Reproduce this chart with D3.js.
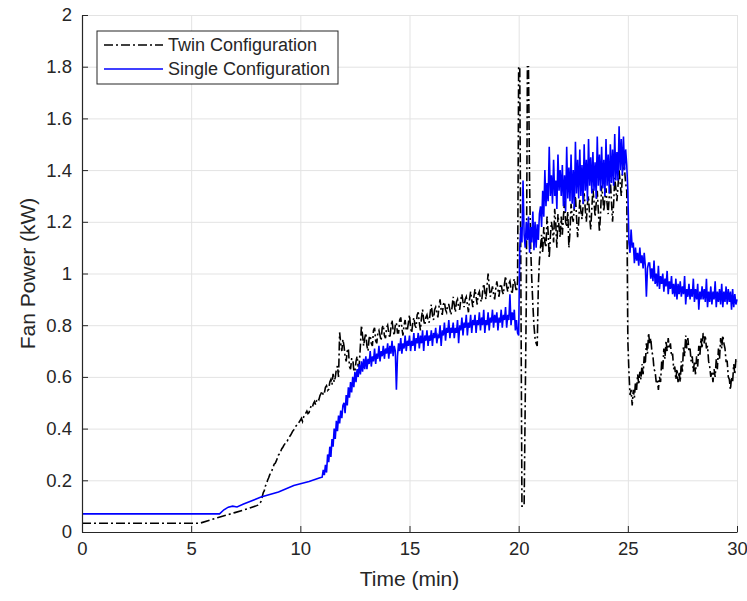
<!DOCTYPE html>
<html>
<head>
<meta charset="utf-8">
<title>Fan Power</title>
<style>
  body { margin: 0; background: #fff; }
  svg text { font-family: Arial, "Liberation Sans", sans-serif; fill: #262626; }
</style>
</head>
<body>
<svg id="chart" width="747" height="601"></svg>
<script src="https://cdn.jsdelivr.net/npm/d3@7/dist/d3.min.js"></script>
<script>
// ---- data (time in min, power in kW) ----
var xTicks = [0, 5, 10, 15, 20, 25, 30];
var yTicks = [0, 0.2, 0.4, 0.6, 0.8, 1, 1.2, 1.4, 1.6, 1.8, 2];
var yTickLabels = ["0", "0.2", "0.4", "0.6", "0.8", "1", "1.2", "1.4", "1.6", "1.8", "2"];
var seriesNames = ["Twin Configuration", "Single Configuration"];

var sampleStep = 0.05; // logged samples every 0.05 min, one row = one minute

// twin: sparse start-up part, then logged samples from 8.0 min
var twinHead = [[0, 0.034], [5.4, 0.034], [6.2, 0.055], [7.0, 0.075], [7.6, 0.09]];
var twinFrom = 8.0;
var twinPower = [
  0.102, 0.104, 0.108, 0.112, 0.118, 0.135, 0.152, 0.16, 0.178, 0.186, 0.2, 0.21, 0.222, 0.228, 0.238, 0.25, 0.262, 0.266, 0.275, 0.286, // 8
  0.298, 0.302, 0.312, 0.322, 0.328, 0.336, 0.342, 0.348, 0.351, 0.362, 0.368, 0.374, 0.382, 0.39, 0.395, 0.402, 0.41, 0.414, 0.418, 0.426, // 9
  0.432, 0.44, 0.428, 0.445, 0.452, 0.46, 0.468, 0.458, 0.462, 0.478, 0.488, 0.482, 0.497, 0.505, 0.492, 0.51, 0.518, 0.512, 0.528, 0.536, // 10
  0.545, 0.53, 0.537, 0.56, 0.566, 0.548, 0.552, 0.58, 0.59, 0.57, 0.612, 0.58, 0.598, 0.63, 0.642, 0.6, 0.772, 0.73, 0.7, 0.745,         // 11
  0.72, 0.68, 0.66, 0.7, 0.71, 0.64, 0.63, 0.67, 0.67, 0.625, 0.62, 0.66, 0.68, 0.64, 0.65, 0.72, 0.8, 0.76, 0.72, 0.75,                   // 12
  0.77, 0.72, 0.7, 0.75, 0.76, 0.73, 0.72, 0.78, 0.79, 0.74, 0.73, 0.77, 0.78, 0.76, 0.74, 0.79, 0.8, 0.76, 0.75, 0.79,                    // 13
  0.8, 0.77, 0.75, 0.79, 0.82, 0.78, 0.76, 0.8, 0.81, 0.77, 0.77, 0.82, 0.83, 0.79, 0.76, 0.8, 0.82, 0.78, 0.78, 0.81,                     // 14
  0.84, 0.79, 0.77, 0.81, 0.83, 0.8, 0.79, 0.84, 0.85, 0.81, 0.78, 0.83, 0.86, 0.82, 0.8, 0.83, 0.84, 0.82, 0.81, 0.85,                    // 15
  0.88, 0.84, 0.82, 0.86, 0.87, 0.85, 0.83, 0.87, 0.9, 0.86, 0.84, 0.88, 0.89, 0.86, 0.85, 0.88, 0.88, 0.86, 0.84, 0.87,                   // 16
  0.91, 0.88, 0.85, 0.89, 0.9, 0.87, 0.86, 0.9, 0.92, 0.89, 0.87, 0.9, 0.91, 0.88, 0.85, 0.9, 0.93, 0.9, 0.87, 0.91,                       // 17
  0.94, 0.91, 0.88, 0.92, 0.93, 0.9, 0.89, 0.93, 0.96, 0.93, 0.9, 0.95, 1.0, 0.95, 0.91, 0.93, 0.95, 0.92, 0.9, 0.94,                      // 18
  0.97, 0.94, 0.91, 0.95, 0.96, 0.93, 0.92, 0.96, 0.99, 0.95, 0.93, 0.96, 0.97, 0.94, 0.92, 0.96, 0.98, 0.95, 0.93, 0.97,                  // 19
  1.8, 1.8, 1.0, 0.1, 0.1, 0.1, 0.5, 0.9, 1.8, 1.8, 1.35, 1.1, 0.98, 0.88, 0.8, 0.75, 0.73, 0.72, 0.95, 1.05,                              // 20
  1.1, 1.15, 1.08, 1.18, 1.12, 1.1, 1.22, 1.16, 1.06, 1.14, 1.2, 1.17, 1.12, 1.25, 1.19, 1.1, 1.23, 1.18, 1.14, 1.22,                      // 21
  1.15, 1.22, 1.28, 1.2, 1.18, 1.24, 1.1, 1.16, 1.27, 1.22, 1.2, 1.26, 1.3, 1.22, 1.14, 1.2, 1.29, 1.24, 1.21, 1.26,                       // 22
  1.31, 1.25, 1.2, 1.27, 1.3, 1.22, 1.17, 1.25, 1.33, 1.28, 1.22, 1.27, 1.32, 1.24, 1.16, 1.23, 1.34, 1.3, 1.24, 1.29,                     // 23
  1.33, 1.27, 1.23, 1.3, 1.36, 1.28, 1.2, 1.27, 1.37, 1.33, 1.28, 1.34, 1.4, 1.35, 1.3, 1.38, 1.46, 1.4, 1.35, 1.32,                       // 24
  0.74, 0.62, 0.53, 0.55, 0.49, 0.55, 0.52, 0.58, 0.55, 0.61, 0.57, 0.62, 0.59, 0.65, 0.61, 0.68, 0.65, 0.73, 0.69, 0.77,                  // 25
  0.73, 0.75, 0.7, 0.68, 0.63, 0.62, 0.58, 0.59, 0.55, 0.6, 0.58, 0.66, 0.63, 0.71, 0.67, 0.74, 0.7, 0.75, 0.71, 0.73,                     // 26
  0.68, 0.69, 0.63, 0.64, 0.59, 0.63, 0.58, 0.62, 0.58, 0.66, 0.62, 0.72, 0.68, 0.76, 0.71, 0.75, 0.7, 0.71, 0.66, 0.68,                   // 27
  0.62, 0.66, 0.61, 0.68, 0.64, 0.72, 0.68, 0.75, 0.71, 0.77, 0.73, 0.76, 0.71, 0.72, 0.66, 0.64, 0.6, 0.62, 0.58, 0.63,                   // 28
  0.6, 0.67, 0.63, 0.71, 0.67, 0.75, 0.71, 0.76, 0.73, 0.71, 0.66, 0.66, 0.6, 0.59, 0.55, 0.6, 0.58, 0.65, 0.61, 0.67,                     // 29
  0.66                                                                                                                                      // 30
];

// single: sparse start-up part, then logged samples from 11.0 min
var singleHead = [[0, 0.07], [6.3, 0.07], [6.5, 0.086], [6.7, 0.096], [6.9, 0.1], [7.1, 0.097],
                  [7.4, 0.108], [8.2, 0.135], [9.0, 0.155], [9.7, 0.18], [10.4, 0.195], [10.9, 0.21]];
var singleFrom = 11.0;
var singlePower = [
  0.212, 0.24, 0.22, 0.26, 0.23, 0.3, 0.27, 0.33, 0.29, 0.36, 0.33, 0.4, 0.36, 0.43, 0.39, 0.45, 0.42, 0.47, 0.44, 0.49,     // 11
  0.5, 0.46, 0.53, 0.49, 0.56, 0.52, 0.58, 0.54, 0.6, 0.56, 0.62, 0.58, 0.63, 0.6, 0.65, 0.61, 0.66, 0.62, 0.67, 0.63,       // 12
  0.68, 0.63, 0.67, 0.65, 0.7, 0.64, 0.68, 0.66, 0.71, 0.65, 0.69, 0.67, 0.72, 0.66, 0.7, 0.68, 0.72, 0.67, 0.71, 0.69,      // 13
  0.73, 0.67, 0.72, 0.69, 0.74, 0.68, 0.72, 0.7, 0.55, 0.68, 0.73, 0.7, 0.75, 0.69, 0.73, 0.71, 0.76, 0.7, 0.74, 0.72,       // 14
  0.76, 0.7, 0.74, 0.72, 0.77, 0.7, 0.75, 0.73, 0.77, 0.71, 0.76, 0.73, 0.78, 0.7, 0.76, 0.74, 0.78, 0.72, 0.76, 0.74,       // 15
  0.78, 0.72, 0.77, 0.75, 0.79, 0.73, 0.76, 0.75, 0.8, 0.72, 0.78, 0.76, 0.81, 0.74, 0.79, 0.77, 0.82, 0.75, 0.79, 0.77,     // 16
  0.81, 0.75, 0.79, 0.77, 0.82, 0.73, 0.8, 0.78, 0.83, 0.76, 0.81, 0.79, 0.84, 0.76, 0.81, 0.79, 0.84, 0.77, 0.82, 0.8,      // 17
  0.84, 0.77, 0.82, 0.8, 0.85, 0.78, 0.83, 0.8, 0.86, 0.77, 0.82, 0.8, 0.85, 0.78, 0.83, 0.81, 0.86, 0.79, 0.84, 0.81,       // 18
  0.85, 0.78, 0.83, 0.81, 0.86, 0.79, 0.84, 0.82, 0.87, 0.79, 0.84, 0.82, 0.92, 0.8, 0.85, 0.82, 0.86, 0.78, 0.82, 0.77,     // 19
  0.76, 1.1, 1.18, 1.12, 1.36, 1.15, 1.1, 1.2, 1.13, 1.22, 1.08, 1.18, 1.12, 1.24, 1.09, 1.2, 1.1, 1.19, 1.13, 1.23,         // 20
  1.26, 1.18, 1.32, 1.22, 1.4, 1.26, 1.35, 1.28, 1.49, 1.3, 1.38, 1.27, 1.44, 1.3, 1.36, 1.25, 1.46, 1.32, 1.4, 1.3,         // 21
  1.42, 1.26, 1.38, 1.24, 1.49, 1.29, 1.41, 1.28, 1.46, 1.27, 1.4, 1.25, 1.51, 1.31, 1.44, 1.29, 1.48, 1.3, 1.42, 1.27,      // 22
  1.5, 1.32, 1.44, 1.28, 1.52, 1.34, 1.45, 1.31, 1.47, 1.32, 1.43, 1.29, 1.53, 1.34, 1.46, 1.32, 1.49, 1.33, 1.44, 1.3,      // 23
  1.52, 1.34, 1.46, 1.31, 1.5, 1.35, 1.48, 1.34, 1.54, 1.36, 1.47, 1.36, 1.57, 1.4, 1.52, 1.38, 1.53, 1.4, 1.48, 1.42,       // 24
  1.32, 1.12, 1.08, 1.17, 1.1, 1.12, 1.04, 1.1, 1.05, 1.08, 1.03, 1.1, 1.04, 1.07, 1.02, 1.08, 1.03, 0.91, 1.02, 1.04,       // 25
  1.04, 0.98, 1.02, 0.97, 1.05, 0.96, 1.0, 0.95, 1.03, 0.94, 0.99, 0.96, 1.0, 0.93, 0.98, 0.95, 1.01, 0.92, 0.97, 0.94,      // 26
  0.99, 0.92, 0.96, 0.91, 0.98, 0.9, 0.96, 0.92, 0.97, 0.91, 0.95, 0.92, 0.99, 0.88, 0.94, 0.91, 0.96, 0.9, 0.94, 0.91,      // 27
  0.98, 0.89, 0.94, 0.9, 0.96, 0.86, 0.93, 0.9, 0.95, 0.9, 0.94, 0.89, 0.98, 0.87, 0.93, 0.89, 0.95, 0.88, 0.93, 0.9,        // 28
  0.97, 0.87, 0.93, 0.89, 0.94, 0.88, 0.96, 0.87, 0.93, 0.89, 0.95, 0.88, 0.94, 0.89, 0.93, 0.86, 0.94, 0.87, 0.92, 0.88,    // 29
  0.9                                                                                                                          // 30
];

function buildSeries(head, from, values) {
  return head.concat(values.map(function(v, i) { return [from + i * sampleStep, v]; }));
}
var twin = buildSeries(twinHead, twinFrom, twinPower);
var single = buildSeries(singleHead, singleFrom, singlePower);

// ---- layout ----
var plotLeft = 82, plotRight = 737, plotTop = 15, plotBottom = 532;
var axisColor = "#262626";

var x = d3.scaleLinear().domain([0, 30]).range([plotLeft, plotRight]);
var y = d3.scaleLinear().domain([0, 2]).range([plotBottom, plotTop]);

var svg = d3.select("#chart");

// grid
svg.append("g")
  .attr("transform", "translate(0," + plotBottom + ")")
  .call(d3.axisBottom(x).tickValues(xTicks).tickSize(-(plotBottom - plotTop)).tickFormat(""))
  .call(function(g) { g.select(".domain").remove(); })
  .selectAll("line").attr("stroke", "#e3e3e3");
svg.append("g")
  .attr("transform", "translate(" + plotLeft + ",0)")
  .call(d3.axisLeft(y).tickValues(yTicks).tickSize(-(plotRight - plotLeft)).tickFormat(""))
  .call(function(g) { g.select(".domain").remove(); })
  .selectAll("line").attr("stroke", "#e3e3e3");

// lines
var line = d3.line().x(function(d) { return x(d[0]); }).y(function(d) { return y(d[1]); });

svg.append("path")
  .datum(twin)
  .attr("d", line)
  .attr("fill", "none")
  .attr("stroke", "#000")
  .attr("stroke-width", 1.6)
  .attr("stroke-dasharray", "9,3,2,3");

svg.append("path")
  .datum(single)
  .attr("d", line)
  .attr("fill", "none")
  .attr("stroke", "#0000ff")
  .attr("stroke-width", 1.6);

// axes
var xAxis = svg.append("g")
  .attr("transform", "translate(0," + plotBottom + ")")
  .call(d3.axisBottom(x).tickValues(xTicks).tickSizeInner(-6).tickSizeOuter(0).tickPadding(10)
        .tickFormat(d3.format("d")));
var yAxis = svg.append("g")
  .attr("transform", "translate(" + plotLeft + ",0)")
  .call(d3.axisLeft(y).tickValues(yTicks).tickSizeInner(-6).tickSizeOuter(0).tickPadding(10)
        .tickFormat(function(d, i) { return yTickLabels[i]; }));

[xAxis, yAxis].forEach(function(g) {
  g.select(".domain").attr("stroke", axisColor).attr("stroke-width", 1.2);
  g.selectAll(".tick line").attr("stroke", axisColor);
  g.selectAll(".tick text")
    .attr("fill", axisColor)
    .style("font-size", "18.5px")
    .style("font-family", "Arial, 'Liberation Sans', sans-serif");
});

// axis titles
svg.append("text")
  .attr("x", (plotLeft + plotRight) / 2)
  .attr("y", 586)
  .attr("text-anchor", "middle")
  .style("font-size", "21px")
  .text("Time (min)");

svg.append("text")
  .attr("transform", "translate(35," + ((plotTop + plotBottom) / 2) + ") rotate(-90)")
  .attr("text-anchor", "middle")
  .style("font-size", "21px")
  .text("Fan Power (kW)");

// legend
var legend = svg.append("g").attr("transform", "translate(97,31)");
legend.append("rect")
  .attr("width", 241).attr("height", 53)
  .attr("fill", "#fff").attr("stroke", axisColor).attr("stroke-width", 1);

var legendStyles = [
  { color: "#000", dash: "9,3,2,3" },
  { color: "#0000ff", dash: null }
];
seriesNames.forEach(function(name, i) {
  var row = legend.append("g").attr("transform", "translate(0," + (14 + i * 24) + ")");
  row.append("line")
    .attr("x1", 7).attr("x2", 66)
    .attr("stroke", legendStyles[i].color)
    .attr("stroke-width", 1.3)
    .attr("stroke-dasharray", legendStyles[i].dash);
  row.append("text")
    .attr("x", 71)
    .attr("dy", "0.35em")
    .style("font-size", "18px")
    .text(name);
});
</script>
</body>
</html>
